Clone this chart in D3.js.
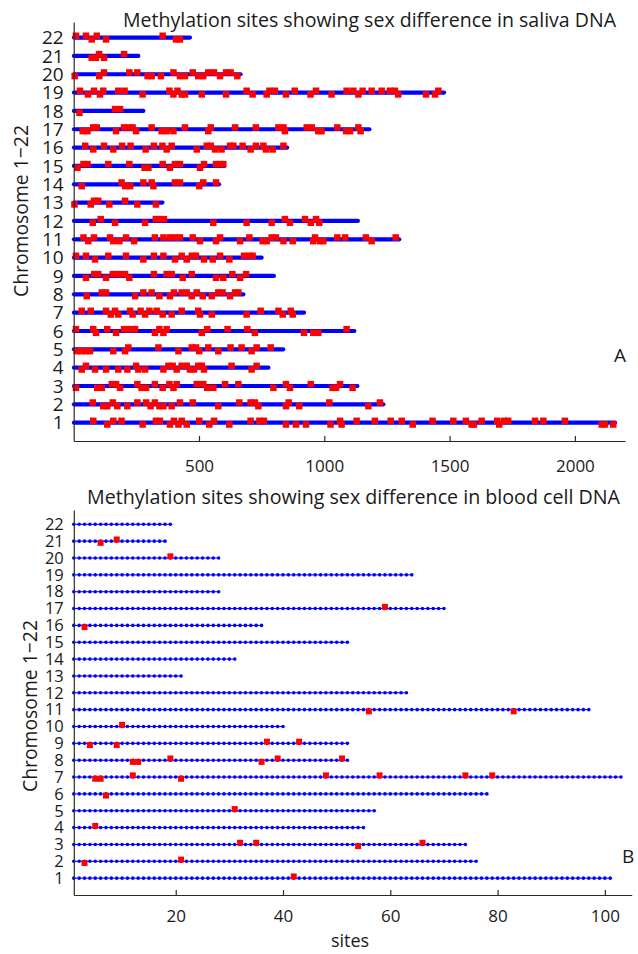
<!DOCTYPE html>
<html>
<head>
<meta charset="utf-8">
<script src="https://cdn.jsdelivr.net/npm/d3@7"></script>
<style>
  body { margin: 0; background: #fff; }
  text { font-family: "Open Sans", sans-serif; fill: #1a1a1a; }
</style>
</head>
<body>
<svg id="chart" width="638" height="954"></svg>
<script>
// chromosomes 1..22, sites per chromosome
const chromosomes = d3.range(1, 23);
const salivaLength = [2160, 1236, 1132, 777, 836, 1120, 919, 677, 799, 750, 1299,
                      1134, 354, 580, 601, 852, 1180, 278, 1478, 666, 258, 464];
const bloodLength = [101, 76, 74, 55, 57, 78, 103, 52, 52, 40, 97,
                     63, 21, 31, 52, 36, 70, 28, 64, 28, 18, 19];
const salivaTicks = [500, 1000, 1500, 2000];
const bloodTicks = [20, 40, 60, 80, 100];

// sex-different sites: [site, side]  (side 1 = drawn just above the line, -1 = just below)
const salivaSites = [
  [[78,1],[134,-1],[158,1],[191,1],[275,-1],[328,1],[344,1],[384,-1],[400,1],[418,-1],[431,1],[451,-1],[501,1],[541,-1],[560,1],[621,-1],[706,1],[741,1],[759,1],[847,-1],[887,-1],[927,-1],[1025,-1],[1063,1],[1069,-1],[1129,1],[1202,1],[1265,1],[1309,1],[1353,-1],[1432,1],[1515,1],[1565,1],[1588,-1],[1597,-1],[1628,1],[1690,1],[1698,-1],[1717,1],[1734,1],[1841,1],[1874,1],[1960,1],[2107,-1],[2120,-1],[2153,-1]],
  [[76,1],[118,-1],[134,-1],[156,1],[174,-1],[214,-1],[254,1],[289,1],[307,-1],[324,1],[342,-1],[358,-1],[391,-1],[424,1],[475,1],[577,-1],[661,1],[706,1],[723,1],[737,-1],[847,-1],[858,1],[900,-1],[1020,1],[1176,-1],[1222,1]],
  [[9,-1],[94,-1],[112,-1],[152,1],[169,1],[185,-1],[254,1],[271,-1],[289,-1],[324,1],[355,-1],[382,1],[398,-1],[411,1],[491,1],[517,1],[533,-1],[557,-1],[604,1],[657,1],[797,-1],[847,1],[863,-1],[946,1],[1033,-1],[1047,-1],[1063,1],[1113,-1]],
  [[32,-1],[49,1],[85,-1],[129,-1],[178,-1],[214,-1],[249,1],[258,-1],[285,-1],[358,-1],[378,1],[395,1],[411,-1],[431,1],[451,1],[464,-1],[480,-1],[497,1],[511,1],[520,-1],[630,1],[710,-1],[730,1]],
  [[12,-1],[32,-1],[49,-1],[65,-1],[158,-1],[205,-1],[218,1],[338,1],[418,-1],[471,1],[488,1],[501,-1],[537,1],[577,-1],[626,1],[670,1],[710,-1],[730,1],[786,1]],
  [[9,1],[78,1],[89,-1],[134,1],[169,-1],[201,1],[218,1],[235,1],[245,1],[324,-1],[342,1],[358,-1],[371,1],[511,-1],[533,1],[614,1],[693,1],[723,-1],[919,-1],[956,-1],[976,-1],[1089,1]],
  [[32,1],[68,1],[129,1],[148,-1],[165,1],[178,-1],[225,1],[235,-1],[267,1],[285,-1],[302,1],[331,1],[355,-1],[391,-1],[431,1],[497,1],[504,-1],[551,-1],[690,-1],[746,1],[817,1],[834,-1],[866,1],[874,-1]],
  [[52,-1],[112,1],[129,1],[245,-1],[278,1],[311,1],[342,-1],[384,-1],[400,1],[431,1],[451,1],[471,-1],[491,1],[515,-1],[551,-1],[577,1],[594,1],[624,-1],[644,1],[657,1]],
  [[49,-1],[82,1],[98,1],[129,-1],[156,1],[172,1],[187,1],[205,1],[222,-1],[320,1],[371,1],[391,1],[435,-1],[471,1],[568,-1],[597,-1],[633,1],[664,-1],[688,1]],
  [[9,1],[49,1],[85,-1],[138,1],[209,1],[278,-1],[320,1],[358,1],[404,-1],[431,1],[451,-1],[471,1],[488,1],[520,-1],[555,-1],[584,1],[621,-1],[680,1],[701,1],[714,1]],
  [[39,1],[58,-1],[81,1],[145,1],[158,-1],[182,-1],[209,1],[241,-1],[324,1],[358,1],[384,1],[404,1],[424,1],[475,1],[504,-1],[568,-1],[584,1],[664,-1],[701,1],[754,-1],[770,-1],[790,1],[807,1],[837,-1],[874,-1],[956,-1],[963,1],[983,-1],[996,-1],[1052,1],[1083,1],[1166,1],[1189,-1],[1285,1]],
  [[76,-1],[108,1],[165,-1],[285,-1],[328,1],[344,1],[360,1],[557,-1],[690,-1],[790,-1],[843,1],[863,-1],[923,1],[946,-1],[967,1],[980,-1]],
  [[3,-1],[68,-1],[81,1],[98,1],[142,-1],[205,1],[254,-1],[328,-1]],
  [[32,-1],[191,1],[205,-1],[225,-1],[278,1],[311,1],[318,-1],[404,1],[424,1],[501,-1],[517,1],[568,1]],
  [[15,-1],[39,1],[55,1],[138,1],[222,1],[283,-1],[298,-1],[355,1],[384,-1],[404,1],[424,1],[504,-1],[520,1],[568,1],[584,1],[597,1]],
  [[46,1],[78,-1],[121,1],[158,-1],[193,1],[227,1],[287,-1],[320,1],[354,1],[371,-1],[391,1],[491,-1],[531,1],[547,1],[564,-1],[590,-1],[624,1],[637,1],[674,1],[706,-1],[727,1],[757,1],[767,-1],[794,-1],[837,1]],
  [[36,-1],[55,-1],[78,1],[92,1],[169,-1],[201,1],[218,1],[235,1],[249,-1],[311,1],[351,-1],[371,-1],[398,-1],[444,1],[537,-1],[547,1],[644,1],[727,1],[817,1],[837,1],[843,-1],[930,1],[950,1],[976,-1],[989,-1],[1052,1],[1087,-1],[1103,-1],[1136,1],[1145,-1]],
  [[23,-1],[165,1],[185,1]],
  [[25,1],[57,-1],[81,1],[105,-1],[118,1],[178,1],[203,1],[275,-1],[382,1],[398,-1],[414,1],[431,-1],[444,-1],[511,-1],[608,-1],[690,1],[714,-1],[770,-1],[781,1],[803,1],[847,-1],[882,1],[945,-1],[967,1],[1029,-1],[1089,1],[1116,1],[1136,-1],[1153,1],[1189,1],[1229,1],[1262,1],[1282,1],[1295,-1],[1406,-1],[1442,-1],[1455,1]],
  [[4,-1],[102,-1],[121,1],[222,1],[254,1],[295,-1],[311,-1],[348,-1],[398,1],[424,-1],[444,-1],[475,1],[497,-1],[517,-1],[537,1],[560,1],[584,-1],[608,1],[626,1],[653,-1]],
  [[72,-1],[89,-1],[101,1],[121,-1],[201,1]],
  [[9,1],[49,1],[72,-1],[92,1],[129,-1],[355,1],[408,-1],[424,-1]]
];

const bloodSites = [
  [[42,1]],
  [[3,-1],[21,1]],
  [[32,1],[35,1],[54,-1],[66,1]],
  [[5,1]],
  [[31,1]],
  [[7,-1]],
  [[5,-1],[6,-1],[12,1],[21,-1],[48,1],[58,1],[74,1],[79,1]],
  [[12,-1],[13,-1],[19,1],[36,-1],[39,1],[51,1]],
  [[4,-1],[9,-1],[37,1],[43,1]],
  [[10,1]],
  [[56,-1],[83,-1]],
  [], [], [], [],
  [[3,-1]],
  [[59,1]],
  [], [],
  [[19,1]],
  [[6,-1],[9,1]],
  []
];

const svg = d3.select("#chart");
const blue = "#0000ff", red = "#ff0000", axisColor = "#2a2a2a";

function drawPanel(p) {
  const x = d3.scaleLinear().domain(p.xDomain).range([p.left, p.right]);
  const y = d3.scaleLinear().domain([0, 22.85]).range([p.bottom, p.top]);
  const g = svg.append("g");

  // chromosome lines
  g.selectAll("line.chr").data(chromosomes).join("line")
    .attr("class", "chr")
    .attr("x1", x(1))
    .attr("x2", d => x(p.lengths[d - 1]))
    .attr("y1", d => y(d)).attr("y2", d => y(d))
    .attr("stroke", blue)
    .attr("stroke-width", p.lineWidth)
    .attr("stroke-linecap", "round");

  // every site as a dot (blood panel)
  if (p.dots) {
    chromosomes.forEach(c => {
      g.selectAll(null).data(d3.range(1, p.lengths[c - 1] + 1)).join("circle")
        .attr("cx", d => x(d)).attr("cy", y(c)).attr("r", 1.8)
        .attr("fill", blue);
    });
  }

  // sex-different sites
  const s = p.square;
  chromosomes.forEach(c => {
    g.selectAll(null).data(p.sites[c - 1]).join("rect")
      .attr("x", d => x(d[0]) - s / 2)
      .attr("y", d => y(c + 0.1 * d[1]) - s / 2)
      .attr("width", s).attr("height", s)
      .attr("fill", red);
  });

  // x axis
  const xa = g.append("g").attr("transform", `translate(0,${p.bottom})`)
    .call(d3.axisBottom(x).tickValues(p.ticks).tickSize(-5).tickSizeOuter(0)
      .tickFormat(d3.format("d")));
  xa.selectAll("path, line").attr("stroke", axisColor).attr("stroke-width", 1.2);
  xa.selectAll("text").attr("y", p.tickLabelY).attr("dy", null)
    .style("font-size", "17px").style("font-family", "'Open Sans', sans-serif").attr("fill", "#1a1a1a");

  // y axis
  const ya = g.append("g").attr("transform", `translate(${p.left},0)`)
    .call(d3.axisLeft(y).tickValues(chromosomes).tickSize(0).tickPadding(10).tickFormat(d3.format("d")));
  ya.select("path").attr("stroke", axisColor).attr("stroke-width", 1.2);
  ya.selectAll("text").style("font-size", p.yFont + "px")
    .style("font-family", "'Open Sans', sans-serif").attr("fill", "#1a1a1a");

  // title
  g.append("text").attr("x", p.titleX).attr("y", p.titleY)
    .attr("textLength", p.titleLen).attr("lengthAdjust", "spacingAndGlyphs")
    .style("font-size", "20px").text(p.title);

  // y label
  g.append("text")
    .attr("transform", `translate(${p.ylabX},${p.ylabY}) rotate(-90)`)
    .attr("text-anchor", "middle")
    .attr("textLength", 172).attr("lengthAdjust", "spacingAndGlyphs")
    .style("font-size", "20px").text("Chromosome 1\u221222");

  // panel letter
  g.append("text").attr("x", p.letterX).attr("y", p.letterY)
    .style("font-size", "19px").text(p.letter);
}

drawPanel({
  lengths: salivaLength, sites: salivaSites, ticks: salivaTicks,
  xDomain: [0, 2200], left: 73.7, right: 625, top: 22, bottom: 441,
  lineWidth: 4.2, square: 6.5, dots: false, tickLabelY: 31, yFont: 19,
  title: "Methylation sites showing sex difference in saliva DNA",
  titleX: 123, titleY: 27, titleLen: 493,
  ylabX: 28, ylabY: 211, letter: "A", letterX: 614, letterY: 362
});

drawPanel({
  lengths: bloodLength, sites: bloodSites, ticks: bloodTicks,
  xDomain: [1, 105], left: 73.8, right: 631.7, top: 510, bottom: 895,
  lineWidth: 1, square: 6, dots: true, tickLabelY: 27, yFont: 16.5,
  title: "Methylation sites showing sex difference in blood cell DNA",
  titleX: 87, titleY: 504, titleLen: 533,
  ylabX: 37, ylabY: 706, letter: "B", letterX: 622, letterY: 863
});

svg.append("text").attr("x", 350).attr("y", 947)
  .attr("text-anchor", "middle").style("font-size", "18px").text("sites");
</script>
</body>
</html>
